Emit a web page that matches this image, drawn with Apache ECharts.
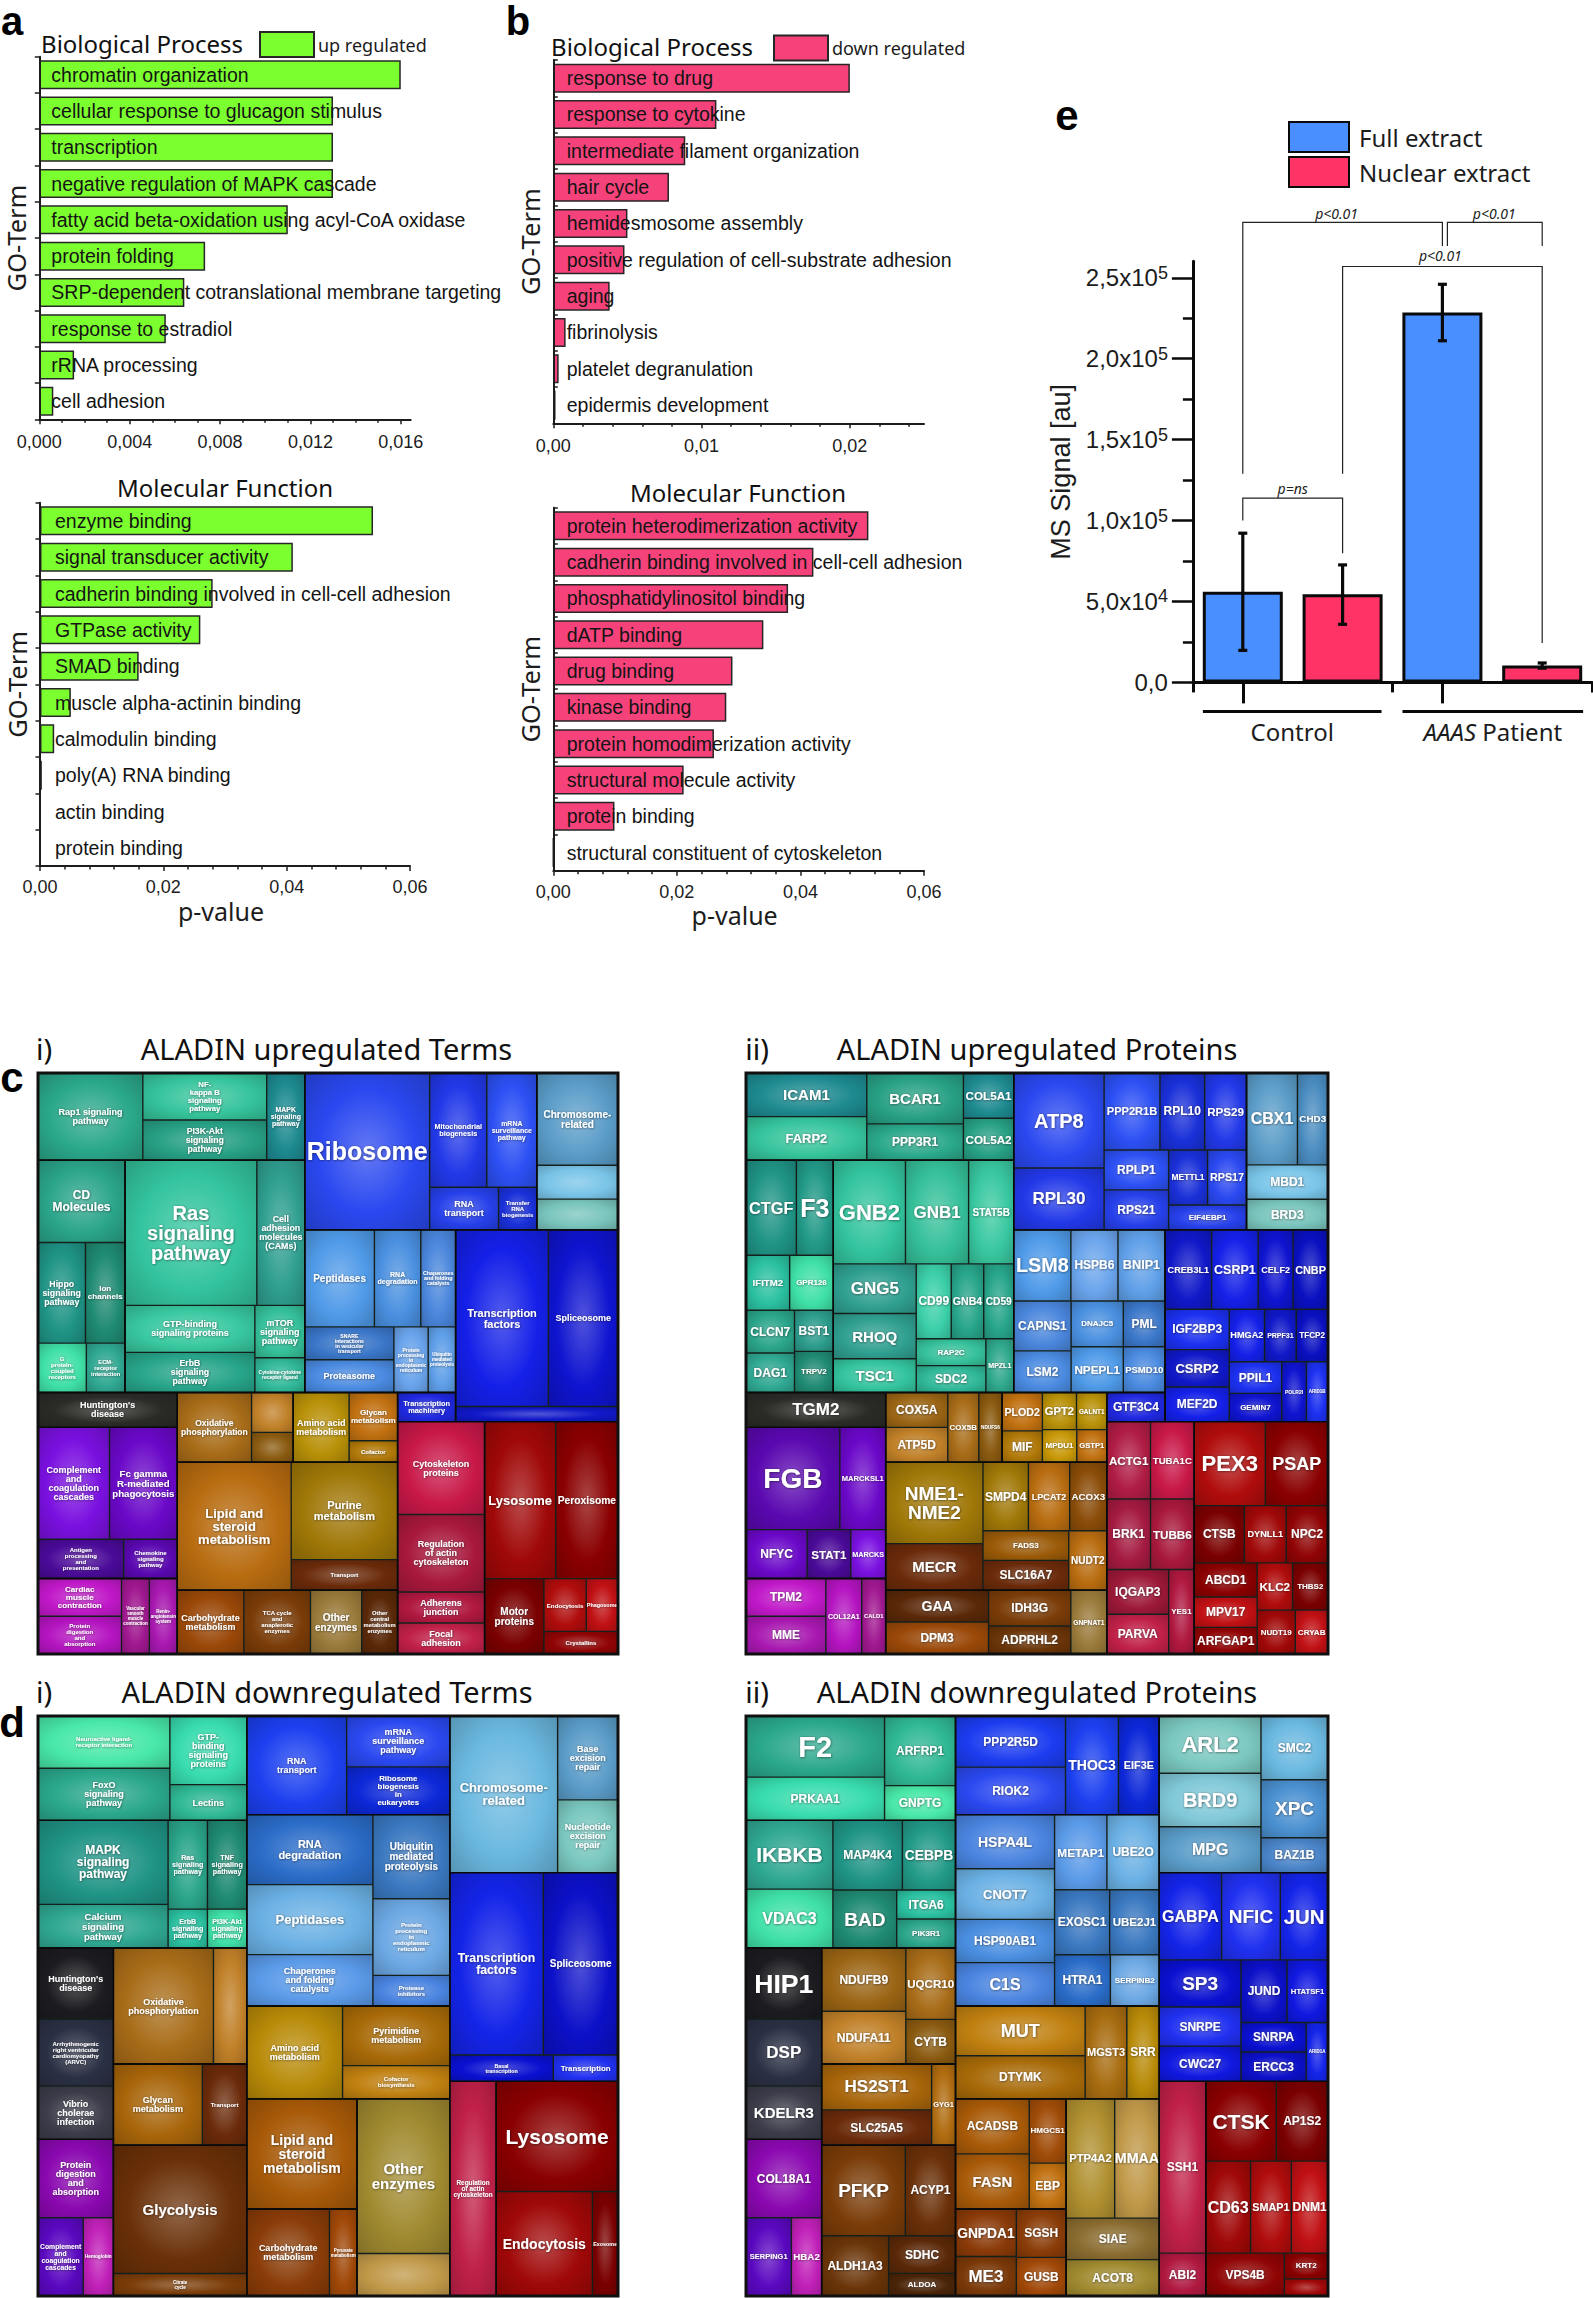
<!DOCTYPE html>
<html><head><meta charset="utf-8">
<script src="https://cdn.jsdelivr.net/npm/echarts@6/dist/echarts.min.js"></script>
<style>html,body{margin:0;padding:0;background:#fff}#c{width:1593px;height:2298px}</style>
</head><body><div id="c"></div>
<script>
// ---------- bar chart data ----------
const upBPTerms=['chromatin organization','cellular response to glucagon stimulus','transcription','negative regulation of MAPK cascade','fatty acid beta-oxidation using acyl-CoA oxidase','protein folding','SRP-dependent cotranslational membrane targeting','response to estradiol','rRNA processing','cell adhesion'];
const upBPValues=[0.016,0.013,0.013,0.013,0.011,0.00734,0.00642,0.0056,0.00154,0.00062];
const upMFTerms=['enzyme binding','signal transducer activity','cadherin binding involved in cell-cell adhesion','GTPase activity','SMAD binding','muscle alpha-actinin binding','calmodulin binding','poly(A) RNA binding','actin binding','protein binding'];
const upMFValues=[0.054,0.041,0.028,0.026,0.016,0.005,0.0023,0.0003,0,0];
const downBPTerms=['response to drug','response to cytokine','intermediate filament organization','hair cycle','hemidesmosome assembly','positive regulation of cell-substrate adhesion','aging','fibrinolysis','platelet degranulation','epidermis development'];
const downBPValues=[0.02,0.011,0.0089,0.0078,0.005,0.0048,0.0038,0.00083,0.00036,0.00015];
const downMFTerms=['protein heterodimerization activity','cadherin binding involved in cell-cell adhesion','phosphatidylinositol binding','dATP binding','drug binding','kinase binding','protein homodimerization activity','structural molecule activity','protein binding','structural constituent of cytoskeleton'];
const downMFValues=[0.051,0.0421,0.038,0.034,0.029,0.028,0.026,0.0211,0.0099,0];
const msCategories=['Control full','Control nuclear','AAAS full','AAAS nuclear'];
const msFull=[56000,'-',228600,'-'];
const msNuclear=['-',54400,'-',10450];
const msErrors=[[0,19800,92200],[1,35900,72600],[2,211100,246000],[3,8800,12000]];
const msBrackets=[[[0,128900],[0,284300],[2,284300],[2,269600]],[[2.05,269600],[2.05,284300],[3,284300],[3,269600]],[[1,128900],[1,257000],[3,257000],[3,24400]],[[0,100000],[0,113900],[1,113900],[1,79800]]];
const msBracketLabels=[['p<0.01',0.94,290000],['p<0.01',2.52,290000],['p<0.01',1.98,263500],['p=ns',0.5,120000]];
const msGroups=[['Control',-0.4,1.39],['{i|AAAS} Patient',1.6,3.41]];
const msMajorTicks=[0,50000,100000,150000,200000,250000];
const msMinorTicks=[25000,75000,125000,175000,225000];

// ---------- proteomaps: name, approximate area ----------
const upTerms={
greenA:[['PI3K-Akt\nsignaling\npathway',3],['MAPK\nsignaling\npathway',2],['Rap1 signaling\npathway',5.5],['NF-\nkappa B\nsignaling\npathway',3.5]],
greenB:[['Hippo\nsignaling\npathway',3],['ECM-\nreceptor\ninteraction',1.2],['G\nprotein-\ncoupled\nreceptors',1.5],['Ion\nchannels',2.5],['CD\nMolecules',4.5]],
greenC:[['Ras\nsignaling\npathway',11],['ErbB\nsignaling\npathway',3],['Cell\nadhesion\nmolecules\n(CAMs)',4],['mTOR\nsignaling\npathway',1.5],['GTP-binding\nsignaling proteins',3.5],['Cytokine-cytokine\nreceptor ligand',1]],
ribo:[['Ribosome',12],['Mitochondrial\nbiogenesis',4],['mRNA\nsurveillance\npathway',3.5],['RNA\ntransport',1.8],['Transfer\nRNA\nbiogenesis',1]],
chrom:[['Chromosome-\nrelated',3],['',1.1],['',1]],
pep:[['Proteasome',1.3],['Peptidases',3],['SNARE\ninteractions\nin vesicular\ntransport',1.3],['Ubiquitin\nmediated\nproteolysis',0.8],['Chaperones\nand folding\ncatalysts',1.5],['Protein\nprocessing\nin\nendoplasmic\nreticulum',1],['RNA\ndegradation',2]],
mach:[['Transcription\nmachinery',1]],
tf:[['Transcription\nfactors',8],['Spliceosome',6],['RNA\npolymerase',1.2]],
black:[["Huntington's\ndisease",1]],
purple:[['Fc gamma\nR-mediated\nphagocytosis',3.6],['Complement\nand\ncoagulation\ncascades',3.8],['Chemokine\nsignaling\npathway',1],['Antigen\nprocessing\nand\npresentation',1.6]],
magenta:[['Protein\ndigestion\nand\nabsorption',1.2],['Renin-\nangiotensin\nsystem',0.8],['Cardiac\nmuscle\ncontraction',1.2],['Vascular\nsmooth\nmuscle\ncontraction',0.8]],
ox:[['Oxidative\nphosphorylation',2.5],['',0.8],['',0.6]],
amino:[['Amino acid\nmetabolism',3],['Glycan\nmetabolism',1.8],['Cofactor\nbiosynthesis',0.8]],
mid:[['Transport',1],['Purine\nmetabolism',3.2],['Lipid and\nsteroid\nmetabolism',4.5]],
low:[['TCA cycle\nand\nanaplerotic\nenzymes',1.3],['Carbohydrate\nmetabolism',1.3],['Other\ncentral\nmetabolism\nenzymes',0.7],['Other\nenzymes',1]],
pink:[['Focal\nadhesion',0.8],['Adherens\njunction',0.8],['Cytoskeleton\nproteins',2.4],['Regulation\nof actin\ncytoskeleton',2]],
red:[['Peroxisome',3.5],['Lysosome',4],['Motor\nproteins',1.6],['Endocytosis',0.8],['Crystallins',0.6],['Phagosome',0.6]]
};
const upProteins={
greenA:[['COL5A2',1.2],['COL5A1',1.3],['PPP3R1',2],['FARP2',3],['BCAR1',2.8],['ICAM1',3]],
greenB:[['CTGF',3],['DAG1',1.2],['GPR126',1.5],['TRPV2',1],['CLCN7',1.3],['IFITM2',1.5],['F3',2.2],['BST1',1]],
greenC:[['GNB2',4],['GNB4',1.3],['GNG5',2.2],['GNB1',3.5],['STAT5B',2.5],['SDC2',1],['MPZL1',0.8],['CD99',1.4],['TSC1',1.5],['CD59',1.2],['RHOQ',2],['RAP2C',1]],
ribo:[['ATP8',4],['RPS29',1.5],['PPP2R1B',2],['RPS21',1.2],['RPL10',1.6],['RPS17',1],['RPL30',2.6],['RPLP1',1.2],['EIF4EBP1',0.9],['METTL1',1]],
chrom:[['CBX1',1.5],['MBD1',0.9],['BRD3',0.8],['CHD3',0.9]],
pep:[['PSMD10',0.8],['NPEPL1',1],['PML',0.8],['BNIP1',1.4],['CAPNS1',1.2],['HSPB6',1.4],['DNAJC5',1],['LSM2',1],['LSM8',1.7]],
mach:[['GTF3C4',1]],
tf:[['CSRP1',2],['POLR2I',0.8],['CSRP2',1.3],['IGF2BP3',1.4],['CNBP',1.5],['HMGA2',1],['CELF2',1.5],['CREB3L1',2],['PPIL1',0.9],['TFCP2',0.9],['MEF2D',1.2],['GEMIN7',0.8],['PRPF31',0.9],['ARID1B',0.7]],
black:[['TGM2',1]],
purple:[['MARCKSL1',2.2],['MARCKS',0.8],['FGB',4.5],['STAT1',1],['NFYC',1.4]],
magenta:[['COL12A1',0.9],['MME',1],['TPM2',1],['CALD1',0.6]],
ox:[['COX5B',0.8],['ATP5D',0.8],['NDUFS6',0.6],['COX5A',0.8]],
amino:[['GPT2',0.9],['PLOD2',1.1],['MIF',0.9],['MPDU1',0.8],['GALNT1',0.8],['GSTP1',0.7]],
mid:[['SLC16A7',0.9],['NME1-\nNME2',2.8],['NUDT2',0.8],['FADS3',0.9],['ACOX3',0.9],['MECR',1.6],['SMPD4',1.1],['LPCAT2',1]],
low:[['IDH3G',0.9],['DPM3',1],['GAA',1],['GNPNAT1',0.7],['ADPRHL2',0.7]],
pink:[['PARVA',0.8],['YES1',0.7],['TUBA1C',1.1],['TUBB6',1],['ACTG1',1.1],['IQGAP3',0.9],['BRK1',1]],
red:[['ABCD1',0.9],['NUDT19',0.7],['THBS2',0.7],['PEX3',2.5],['NPC2',1],['MPV17',0.8],['PSAP',2.2],['DYNLL1',1],['CTSB',1.2],['KLC2',0.7],['ARFGAP1',0.7],['CRYAB',0.6]]
};
const downTerms={
greenA:[['FoxO\nsignaling\npathway',3],['Neuroactive ligand-\nreceptor interaction',3],['Lectins',1.2],['GTP-\nbinding\nsignaling\nproteins',2.3]],
greenB:[['MAPK\nsignaling\npathway',5],['Calcium\nsignaling\npathway',2.6],['PI3K-Akt\nsignaling\npathway',0.7],['TNF\nsignaling\npathway',1.6],['Ras\nsignaling\npathway',1.6],['ErbB\nsignaling\npathway',0.7]],
blueDark:[['RNA\ntransport',3],['Ribosome\nbiogenesis\nin\neukaryotes',1.5],['mRNA\nsurveillance\npathway',1.6]],
blueLight:[['Base\nexcision\nrepair',1.5],['Chromosome-\nrelated',5],['Nucleotide\nexcision\nrepair',1.3]],
blueMid:[['Ubiquitin\nmediated\nproteolysis',2.2],['Peptidases',3],['Protease\ninhibitors',0.8],['Chaperones\nand folding\ncatalysts',2.2],['Protein\nprocessing\nin\nendoplasmic\nreticulum',2],['RNA\ndegradation',3]],
blueTF:[['Transcription\nfactors',5],['Spliceosome',4],['Basal\ntranscription\nfactors',0.8],['Transcription\nmachinery',0.5]],
grey:[["Huntington's\ndisease",1.6],['Vibrio\ncholerae\ninfection',1.2],['Arrhythmogenic\nright ventricular\ncardiomyopathy\n(ARVC)',1.5]],
purple:[['Complement\nand\ncoagulation\ncascades',0.9],['Protein\ndigestion\nand\nabsorption',1.5],['Hemoglobin',0.6]],
ox:[['Oxidative\nphosphorylation',3],['',1]],
pyr:[['Pyrimidine\nmetabolism',1.8],['Amino acid\nmetabolism',2.5],['Cofactor\nbiosynthesis',1]],
gly:[['Transport',1],['Glycan\nmetabolism',2]],
lipid:[['Lipid and\nsteroid\nmetabolism',4]],
other:[['Other\nenzymes',4],['',1.1]],
glycolysis:[['Glycolysis',4],['Citrate\ncycle\n(TCA cycle)',0.7]],
carbs:[['Carbohydrate\nmetabolism',3],['Pyruvate\nmetabolism',1]],
pink:[['Regulation\nof actin\ncytoskeleton',1]],
red:[['Lysosome',4],['Endocytosis',3],['Exosome',0.8]]
};
const downProteins={
greenA:[['F2',2.4],['GNPTG',0.7],['ARFRP1',1.4],['PRKAA1',1.7]],
greenB:[['MAP4K4',1.7],['IKBKB',2.1],['VDAC3',1.8],['BAD',1.3],['PIK3R1',0.6],['ITGA6',0.6],['CEBPB',1.3]],
blueDark:[['THOC3',1.3],['EIF3E',1],['RIOK2',1.3],['PPP2R5D',1.4]],
blueLight:[['MPG',1.2],['SMC2',1.1],['ARL2',1.5],['BAZ1B',0.6],['BRD9',1.4],['XPC',1]],
blueMid:[['UBE2J1',0.9],['UBE2O',1.1],['C1S',1.2],['METAP1',1.1],['SERPINB2',0.7],['HTRA1',0.8],['HSP90AB1',1.2],['EXOSC1',1],['CNOT7',1.4],['HSPA4L',1.5]],
blueTF:[['GABPA',1.7],['ERCC3',0.6],['SNRPA',0.6],['NFIC',1.6],['HTATSF1',0.8],['JUN',1.3],['JUND',0.9],['SP3',1.2],['SNRPE',1],['CWC27',0.9],['ARID1A',0.4]],
grey:[['HIP1',1.6],['KDELR3',1.2],['DSP',1.5]],
purple:[['SERPING1',0.9],['COL18A1',1.5],['HBA2',0.6]],
ox:[['UQCR10',0.8],['NDUFA11',1],['CYTB',0.5],['NDUFB9',1.2]],
pyr:[['DTYMK',1.3],['SRR',0.7],['MUT',1.5],['MGST3',0.9]],
gly:[['SLC25A5',1],['HS2ST1',1.3],['GYG1',0.5]],
lipid:[['FASN',1.2],['EBP',0.5],['HMGCS1',0.7],['ACADSB',1.2]],
other:[['ACOT8',0.7],['MMAA',1.1],['PTP4A2',1.2],['SIAE',0.8]],
glycolysis:[['ACYP1',0.9],['PFKP',1.5],['SDHC',0.5],['ALDH1A3',0.8],['ALDOA',0.3]],
carbs:[['SGSH',1],['GUSB',0.8],['GNPDA1',1.2],['ME3',1]],
pink:[['SSH1',1.6],['ABI2',0.4]],
red:[['CTSK',1.5],['CD63',1.1],['AP1S2',1.1],['SMAP1',1],['VPS4B',0.9],['DNM1',0.9],['KRT2',0.3],['KRT14',0.2]]
};
// ---------- styles and layout (separate from the data) ----------
const upLayout={greenA:[0,0,.46,.15],greenB:[0,.15,.15,.40],greenC:[.15,.15,.31,.40],ribo:[.46,0,.40,.27],chrom:[.86,0,.14,.27],pep:[.46,.27,.26,.28],mach:[.62,.55,.10,.05],tf:[.72,.27,.28,.33],black:[0,.55,.24,.06],purple:[0,.61,.24,.26],magenta:[0,.87,.24,.13],ox:[.24,.55,.20,.12],amino:[.44,.55,.18,.12],mid:[.24,.67,.38,.22],low:[.24,.89,.38,.11],pink:[.62,.60,.15,.40],red:[.77,.60,.23,.40]};
const downLayout={greenA:[0,0,.36,.18],greenB:[0,.18,.36,.22],blueDark:[.36,0,.35,.17],blueLight:[.71,0,.29,.27],blueMid:[.36,.17,.35,.33],blueTF:[.71,.27,.29,.36],grey:[0,.40,.13,.33],purple:[0,.73,.13,.27],ox:[.13,.40,.23,.20],pyr:[.36,.50,.35,.16],gly:[.13,.60,.23,.14],lipid:[.36,.66,.19,.19],other:[.55,.66,.16,.34],glycolysis:[.13,.74,.23,.26],carbs:[.36,.85,.19,.15],pink:[.71,.63,.08,.37],red:[.79,.63,.21,.37]};
const palettes={
greenA:['#27a084','#1d8a90','#2aa88a','#35c49c'],greenB:['#1f9486','#2fa892','#3fe0a8','#1f8a72','#2aa58a','#2ac0a0','#229a88','#2c9c8c'],greenC:['#33c49e','#27a58a','#2f9f90','#35c09a','#38c8a0','#30b898','#2fa88c','#3bcfa8'],
ribo:['#2a48f0','#2238e8','#2c50f4','#2640ea','#1a30d8'],chrom:['#5a9cc8','#79c4e8','#78c4bc','#4a8cc0'],pep:['#4a8ae0','#4f9ae8','#3a76c8','#5f9fe8','#4a86dc','#6aa4ec','#4a90e0'],
mach:['#1f28e0'],tf:['#1420e8','#0f14d0','#1018c8','#1c30f0','#0a10c0'],black:['#2a2a26'],
purple:['#6a08c8','#7a10e0','#5a08b0','#4a0a98'],magenta:['#b414c0','#a818b0','#c018c8','#a01890'],
ox:['#a86c18','#c08028','#8a5a10','#9a6414'],amino:['#b89008','#c07010','#b07808','#c89808'],mid:['#6a2a0a','#a07808','#b86c10','#9a5a08','#8a4c08'],low:['#7a3c08','#9a4808','#5a2808','#9a7a3a','#6a3408'],
pink:['#c02048','#b01840','#c81848','#a8183c','#b01c44','#9c1838','#a41a40'],red:['#8a0000','#a00808','#7a0000','#b00c0c','#900404','#c01014'],
blueDark:['#1c40f0','#0c28d8','#2a48f0','#1c3cf0'],blueLight:['#5a9cc8','#6ab8e0','#7ac8c0','#4a84c8','#80c8d8','#4a90d0'],blueMid:['#3a78c0','#6ab0e4','#4a84e0','#5a9ae8','#6ca8e4','#2a6cc8','#4a8ee0'],blueTF:['#1424e8','#0c10c8','#0a10d0','#2030f0','#1018e0'],
grey:['#1c1c20','#3c3c4a','#2a3044'],pyr:['#a86a08','#b88a08','#c08010','#a86c10'],gly:['#6a2a0a','#a8650a','#b06c10'],lipid:['#a85a08','#c07010','#a04c08','#a85a08'],other:['#a08a30','#c09848','#b09030','#8a6c30'],glycolysis:['#6a3008','#7a3c08','#5a2808','#6a3408','#4a2408'],carbs:['#8a3c08','#a04808','#8a3a08','#7a3808']
};
palettes.greenA_down=['#2aa88c','#48e8a8','#2fb894','#38dcae'];
palettes.purple_down=['#5a08c0','#8a08b0','#c020b8'];
const upTermSizes={Ribosome:25,'Ras signaling pathway':20,'CD Molecules':12,'Lipid and steroid metabolism':13,Lysosome:13,Peroxisome:14,'Purine metabolism':11,'Motor proteins':10,'Fc gamma R-mediated phagocytosis':11,'Transcription factors':11,'Chromosome- related':10,Peptidases:10,'Other enzymes':10};
const downTermSizes={Lysosome:21,'Lipid and steroid metabolism':14,'Other enzymes':15,Glycolysis:15,Endocytosis:14,'Chromosome- related':13,Peptidases:13,'Transcription factors':13,'MAPK signaling pathway':12,'Calcium signaling pathway':12,'RNA degradation':11,'Ubiquitin mediated proteolysis':10,Spliceosome:10};
const proteinSizes={FGB:28,F3:25,HIP1:28,F2:29,PEX3:22,GNB2:22,GNB1:17,CTGF:18,GNG5:17,ATP8:20,RPL30:17,LSM8:20,CHD3:17,'NME1- NME2':19,PSAP:18,ARL2:22,XPC:19,JUN:21,SP3:19,NFIC:19,CTSK:21,CD63:17,IKBKB:21,VDAC3:16,BAD:19,BRD9:20,PFKP:19,MPG:16,MUT:18,HS2ST1:17,FASN:15,ME3:17,CBX1:16,TGM2:17,BCAR1:15,ICAM1:15,CSRP1:16,CEBPB:16,GABPA:16,MMAA:15,DSP:17,TSC1:15,IFITM2:14,RHOQ:15,CNBP:13,CSRP2:13,MECR:15,EIF3E:15,THOC3:14,GPT2:14,GAA:14,DNM1:15,SMAP1:13,HSPA4L:14,CNOT7:13,C1S:16,PTP4A2:13,GNPDA1:14,KDELR3:15,FARP2:13,BNIP1:13,NPEPL1:12,MARCKSL1:12,YES1:12,NPC2:12};
const tinyTerms=['Cytokine-cytokine receptor ligand','Ubiquitin mediated proteolysis','Protein processing in endoplasmic reticulum','SNARE interactions in vesicular transport','Transfer RNA biogenesis','Cofactor biosynthesis','Other central metabolism enzymes','Antigen processing and presentation','Chemokine signaling pathway','Renin- angiotensin system','Vascular smooth muscle contraction','Transport','Crystallins','Phagosome','RNA polymerase','ECM- receptor interaction','G protein- coupled receptors','TCA cycle and anaplerotic enzymes','Citrate cycle (TCA cycle)','Arrhythmogenic right ventricular cardiomyopathy (ARVC)','Hemoglobin','Protease inhibitors','Neuroactive ligand- receptor interaction','Basal transcription factors'];
const tinyProteins=['MARCKS','NUDT19','THBS2','ALDOA','KRT14','KRT2','GPR126','PIK3R1','ARID1A','ARID1B','MPDU1','GEMIN7','NDUFS6','FADS3','SERPINB2','GNPNAT1','EIF4EBP1','DNAJC5','TRPV2','RAP2C'];
function hex2(c){return [1,3,5].map(i=>parseInt(c.substr(i,2),16));}
function mix(c,t,a){const r=hex2(c),s=hex2(t);return '#'+r.map((v,i)=>Math.round(v+(s[i]-v)*a).toString(16).padStart(2,'0')).join('');}
function glow(c){return {type:'radial',x:.5,y:.5,r:.72,colorStops:[{offset:0,color:mix(c,'#ffffff',.27)},{offset:.55,color:c},{offset:1,color:mix(c,'#000000',.2)}]};}
function wantedSize(name,sizes,isTerm){const k=name.replace(/\n/g,' ');if(sizes[k])return sizes[k];if(isTerm)return tinyTerms.includes(k)?6:9;return tinyProteins.includes(k)?8:12;}
function emWidth(line){let w=0;for(const ch of line){w+=/[A-Z]/.test(ch)?.71:/[0-9]/.test(ch)?.56:/[a-z]/.test(ch)?.55:.33;}return w;}
function fitBox(name,want,w,h){const lines=name.split('\n');const maxEm=Math.max(...lines.map(emWidth),.5);return Math.max(4.5,Math.min(want,(w-4)/maxEm,(h-5)/(lines.length*1.35)));}
const treemapSeries=[],frames=[];
function addPanel(panelData,layout,px,py,pw,ph,isTerm,isDown,sizes){
 Object.keys(panelData).forEach(key=>{
  const r=layout[key];
  let pal=palettes[key];
  if(isDown&&key==='greenA')pal=palettes.greenA_down;
  if(isDown&&key==='purple')pal=palettes.purple_down;
  const total=panelData[key].reduce((s,e)=>s+e[1],0),clusterArea=r[2]*pw*r[3]*ph;
  const wants={};
  const data=panelData[key].map((e,i)=>{wants[e[0]]=wantedSize(e[0],sizes,isTerm);const side=Math.sqrt(clusterArea*e[1]/total);return {name:e[0],value:e[1],itemStyle:{color:glow(pal[i%pal.length])},label:{fontSize:fitBox(e[0],wants[e[0]],side,side)}};});
  treemapSeries.push({type:'treemap',left:px+r[0]*pw,top:py+r[1]*ph,width:r[2]*pw,height:r[3]*ph,roam:false,nodeClick:false,silent:true,breadcrumb:{show:false},
   itemStyle:{borderColor:'#15201c',borderWidth:0.7,gapWidth:0},visibleMin:0,
   label:{show:true,position:'inside',overflow:'none',align:'center',verticalAlign:'middle',color:'#fff',fontFamily:'Liberation Sans',fontWeight:'bold',textShadowColor:'rgba(0,0,0,.55)',textShadowBlur:2,textShadowOffsetX:.5,textShadowOffsetY:.5},
   levels:[{itemStyle:{borderWidth:0,gapWidth:0}},{itemStyle:{borderColor:'#15201c',borderWidth:0.7,gapWidth:0}}],
   data,wantSizes:wants});
  frames.push({type:'rect',z:50,silent:true,shape:{x:px+r[0]*pw,y:py+r[1]*ph,width:r[2]*pw,height:r[3]*ph},style:{fill:'none',stroke:'#0a0a0a',lineWidth:1.4}});
 });
 frames.push({type:'rect',z:51,silent:true,shape:{x:px,y:py,width:pw,height:ph},style:{fill:'none',stroke:'#101010',lineWidth:3}});
}
addPanel(upTerms,upLayout,38,1073,580,581,true,false,upTermSizes);
addPanel(upProteins,upLayout,746,1073,582,581,false,false,proteinSizes);
addPanel(downTerms,downLayout,38,1716,580,580,true,true,downTermSizes);
addPanel(downProteins,downLayout,746,1716,582,580,false,true,proteinSizes);

// ---------- axes for the GO bar panels ----------
const SANS='Liberation Sans',TITLE='Noto Sans',GREEN='#7CFF2F',PINK='#F5427A',INK='#1c1c1c';
const grids=[],xAxes=[],yAxes=[],barSeries=[],minorAxes=[];
function ticks(step,end){const out=[];for(let k=0;k*step<=end+1e-9;k++)out.push(+(k*step).toFixed(6));return out;}
function barPanel(cfg){
 const i=grids.length;
 grids.push({left:cfg.l,top:cfg.t,width:cfg.w,height:cfg.h});
 const majors=ticks(cfg.major,cfg.lastMajor);
 const minors=ticks(cfg.minorStep,cfg.lastMinor).filter(v=>!majors.includes(v));
 xAxes.push({type:'value',gridIndex:i,position:'bottom',min:0,max:cfg.max,name:cfg.xName||'',nameLocation:'middle',nameGap:cfg.nameGap||32,nameTextStyle:{fontFamily:TITLE,fontSize:25,color:INK,padding:[0,8,0,0]},
  splitLine:{show:false},axisLine:{show:true,onZero:false,lineStyle:{color:INK,width:2}},axisTick:{show:true,length:5,customValues:majors,lineStyle:{color:INK,width:1.5}},
  axisLabel:{margin:cfg.lm,fontFamily:SANS,fontSize:18,color:INK,customValues:majors,formatter:v=>v.toFixed(cfg.dec).replace('.',',')}});
 minorAxes.push({type:'value',gridIndex:i,position:'bottom',min:0,max:cfg.max,splitLine:{show:false},axisLine:{show:false},axisTick:{show:true,length:3.5,customValues:minors,lineStyle:{color:INK,width:1.5}},axisLabel:{show:false}});
 yAxes.push({type:'category',gridIndex:i,inverse:true,data:cfg.terms,z:6,name:'GO-Term',nameLocation:'middle',nameGap:cfg.yGap,nameTextStyle:{fontFamily:TITLE,fontSize:25.5,color:INK},
  axisLine:{show:true,lineStyle:{color:INK,width:2}},axisTick:{show:true,inside:cfg.tickIn,length:4.5,lineStyle:{color:INK,width:1.5}},
  axisLabel:{inside:true,margin:cfg.tm,interval:0,fontFamily:SANS,fontSize:19.5,color:'#141414'}});
 barSeries.push({type:'bar',name:cfg.sname,xAxisIndex:i,yAxisIndex:i,data:cfg.vals,barWidth:29,itemStyle:{color:cfg.color,borderColor:'#262626',borderWidth:1.5}});
}
barPanel({l:39.3,t:56.7,w:371.4,h:362.6,max:0.01644,major:0.004,lastMajor:0.016,minorStep:0.001,lastMinor:0.016,dec:3,lm:14,tm:12,yGap:10,tickIn:false,terms:upBPTerms,vals:upBPValues,color:GREEN,sname:'up regulated'});
barPanel({l:40,t:502.7,w:370,h:363.3,max:0.06,major:0.02,lastMajor:0.06,minorStep:0.004,lastMinor:0.06,dec:2,lm:12,tm:15,yGap:10,tickIn:false,terms:upMFTerms,vals:upMFValues,color:GREEN,sname:'up regulated',xName:'p-value'});
barPanel({l:553.3,t:60,w:370.7,h:363.3,max:0.025,major:0.01,lastMajor:0.02,minorStep:0.002,lastMinor:0.024,dec:2,lm:14,tm:13.4,yGap:10,tickIn:true,terms:downBPTerms,vals:downBPValues,color:PINK,sname:'down regulated'});
barPanel({l:553.3,t:507.7,w:370.7,h:363,max:0.06,major:0.02,lastMajor:0.06,minorStep:0.004,lastMinor:0.06,dec:2,lm:12,tm:13.4,yGap:10,tickIn:true,terms:downMFTerms,vals:downMFValues,color:PINK,sname:'down regulated',xName:'p-value'});

// ---------- panel e ----------
const E=grids.length;
grids.push({left:1192.9,top:261.3,width:399.2,height:421.1});
const eBlack='#0a0a0a',MS_MAX=260200;
xAxes.push({type:'category',gridIndex:E,position:'bottom',data:msCategories,axisLine:{show:true,lineStyle:{color:eBlack,width:3}},axisTick:{show:true,alignWithLabel:false,length:10,lineStyle:{color:eBlack,width:3}},axisLabel:{show:false}});
xAxes.push({type:'category',gridIndex:E,position:'bottom',data:msCategories,axisLine:{show:false},axisTick:{show:true,alignWithLabel:true,length:21,lineStyle:{color:eBlack,width:3}},axisLabel:{show:false}});
yAxes.push({type:'value',gridIndex:E,position:'left',min:0,max:MS_MAX,name:'MS Signal [au]',nameLocation:'middle',nameGap:118,nameTextStyle:{fontFamily:SANS,fontSize:27,color:INK},
 splitLine:{show:false},axisLine:{show:true,lineStyle:{color:eBlack,width:3}},axisTick:{show:true,length:21,customValues:msMajorTicks,lineStyle:{color:eBlack,width:2.5}},
 axisLabel:{margin:25,customValues:msMajorTicks,formatter:v=>{if(v===0)return '{m|0,0}';const e=v>=100000?5:4;return '{m|'+(v/Math.pow(10,e)).toFixed(1).replace('.',',')+'x10}{s|'+e+'}';},rich:{m:{fontFamily:SANS,fontSize:24,color:INK,lineHeight:28},s:{fontFamily:SANS,fontSize:18,color:INK,verticalAlign:'top',lineHeight:20}}}});
yAxes.push({type:'value',gridIndex:E,position:'left',min:0,max:MS_MAX,splitLine:{show:false},axisLine:{show:false},axisTick:{show:true,length:10,customValues:msMinorTicks,lineStyle:{color:eBlack,width:2.5}},axisLabel:{show:false}});
function coordAt(api,x,v){const a=api.coord([0,v]),b=api.coord([1,v]);return [a[0]+(b[0]-a[0])*x,a[1]];}
const eSeries=[
 {type:'bar',name:'Full extract',xAxisIndex:E,yAxisIndex:E,data:msFull,barWidth:80,barGap:'-100%',itemStyle:{color:'#4A8FFF',borderColor:eBlack,borderWidth:3}},
 {type:'bar',name:'Nuclear extract',xAxisIndex:E,yAxisIndex:E,data:msNuclear,barWidth:80,barGap:'-100%',itemStyle:{color:'#FF3366',borderColor:eBlack,borderWidth:3}},
 {type:'custom',name:'error',xAxisIndex:E,yAxisIndex:E,z:5,silent:true,clip:false,data:msErrors,encode:{x:0,y:[1,2]},
  renderItem:(p,api)=>{const x=api.value(0),lo=api.coord([x,api.value(1)]),hi=api.coord([x,api.value(2)]);const st={stroke:eBlack,lineWidth:3.2};const cap=4.5;
   return {type:'group',children:[{type:'line',shape:{x1:lo[0],y1:lo[1],x2:hi[0],y2:hi[1]},style:st},{type:'line',shape:{x1:lo[0]-cap,y1:lo[1],x2:lo[0]+cap,y2:lo[1]},style:st},{type:'line',shape:{x1:hi[0]-cap,y1:hi[1],x2:hi[0]+cap,y2:hi[1]},style:st}]};}},
 {type:'custom',name:'brackets',xAxisIndex:E,yAxisIndex:E,z:6,silent:true,clip:false,data:msBrackets.map((b,i)=>[i]),encode:{x:0},
  renderItem:(p,api)=>{const b=msBrackets[p.dataIndex];return {type:'polyline',shape:{points:b.map(q=>coordAt(api,q[0],q[1]))},style:{fill:'none',stroke:'#222',lineWidth:1.2}};}},
 {type:'custom',name:'bracket labels',xAxisIndex:E,yAxisIndex:E,z:7,silent:true,clip:false,data:msBracketLabels.map((b,i)=>[i]),encode:{x:0},
  renderItem:(p,api)=>{const b=msBracketLabels[p.dataIndex],c=coordAt(api,b[1],b[2]);return {type:'text',x:c[0],y:c[1],style:{text:b[0],fontFamily:TITLE,fontStyle:'italic',fontSize:14,fill:'#222',align:'center',verticalAlign:'middle'}};}},
 {type:'custom',name:'groups',xAxisIndex:E,yAxisIndex:E,z:7,silent:true,clip:false,data:msGroups.map((b,i)=>[i]),encode:{x:0},
  renderItem:(p,api)=>{const g=msGroups[p.dataIndex],a=coordAt(api,g[1],-17950),b=coordAt(api,g[2],-17950);return {type:'group',children:[{type:'line',shape:{x1:a[0],y1:a[1],x2:b[0],y2:b[1]},style:{stroke:eBlack,lineWidth:3}},
    {type:'text',x:(a[0]+b[0])/2,y:a[1]+20.5,style:{text:g[0],fontFamily:TITLE,fontSize:24,fill:INK,align:'center',verticalAlign:'middle',rich:{i:{fontFamily:TITLE,fontSize:24,fontStyle:'italic',fill:INK}}}}]};}}
];

// ---------- free text ----------
function txt(text,x,y,size,opt){return Object.assign({type:'text',z:60,silent:true,x,y,style:{text,fontFamily:TITLE,fontSize:size,fill:'#111',textAlign:'center',textVerticalAlign:'middle'}},opt||{});}
function letter(t,x,y,s){const o=txt(t,x,y,s||42);o.style.fontFamily=SANS;o.style.fontWeight='bold';o.style.fill='#000';return o;}
const texts=[
 letter('a',12,21,40),letter('b',518,21,40),letter('c',12,1077),letter('d',12,1722),letter('e',1067,115),
 txt('Biological Process',142,43,24),txt('Molecular Function',225,487,24),txt('Biological Process',652,46.5,24),txt('Molecular Function',738,492,24),
 txt('i)',44,1048,29),txt('ALADIN upregulated Terms',326.5,1048,29),txt('ii)',757,1048,29),txt('ALADIN upregulated Proteins',1037,1048,29),
 txt('i)',44,1691,29),txt('ALADIN downregulated Terms',327,1691,29),txt('ii)',757,1691,29),txt('ALADIN downregulated Proteins',1037,1691,29)
];
const legendBase={selectedMode:false,orient:'vertical',icon:'rect'};
const option={
 animation:false,backgroundColor:'#fff',
 grid:grids,xAxis:[...xAxes,...minorAxes],yAxis:yAxes,
 legend:[
  Object.assign({},legendBase,{left:259,top:31,padding:0,itemWidth:54,itemHeight:25,itemGap:0,data:['up regulated'],textStyle:{fontFamily:TITLE,fontSize:18,color:INK,padding:[0,0,0,-1]}}),
  Object.assign({},legendBase,{left:773,top:34.5,padding:0,itemWidth:54,itemHeight:25,itemGap:0,data:['down regulated'],textStyle:{fontFamily:TITLE,fontSize:18,color:INK,padding:[0,0,0,-1]}}),
  Object.assign({},legendBase,{left:1288,top:121,padding:0,itemWidth:60,itemHeight:30,itemGap:3,data:['Full extract','Nuclear extract'],textStyle:{fontFamily:TITLE,fontSize:24,color:INK,padding:[0,0,0,5]}})
 ],
 series:[...barSeries,...eSeries,...treemapSeries],
 graphic:{elements:[...frames,...texts]}
};
const chart=echarts.init(document.getElementById('c'),null,{renderer:'svg',width:1593,height:2298});
chart.setOption(option);
// second pass: shrink each label to the cell the treemap layout actually gave it
try{
 chart.getModel().getSeriesByType('treemap').forEach((m,k)=>{
  const spec=treemapSeries[k],cells={};
  m.getData().tree.root.children.forEach(n=>{cells[n.name]=n.getLayout();});
  spec.data.forEach(d=>{const c=cells[d.name];if(c&&d.name)d.label.fontSize=fitBox(d.name,spec.wantSizes[d.name],c.width,c.height);});
 });
 chart.setOption(option,true);
}catch(e){console.warn(e);}
</script></body></html>
